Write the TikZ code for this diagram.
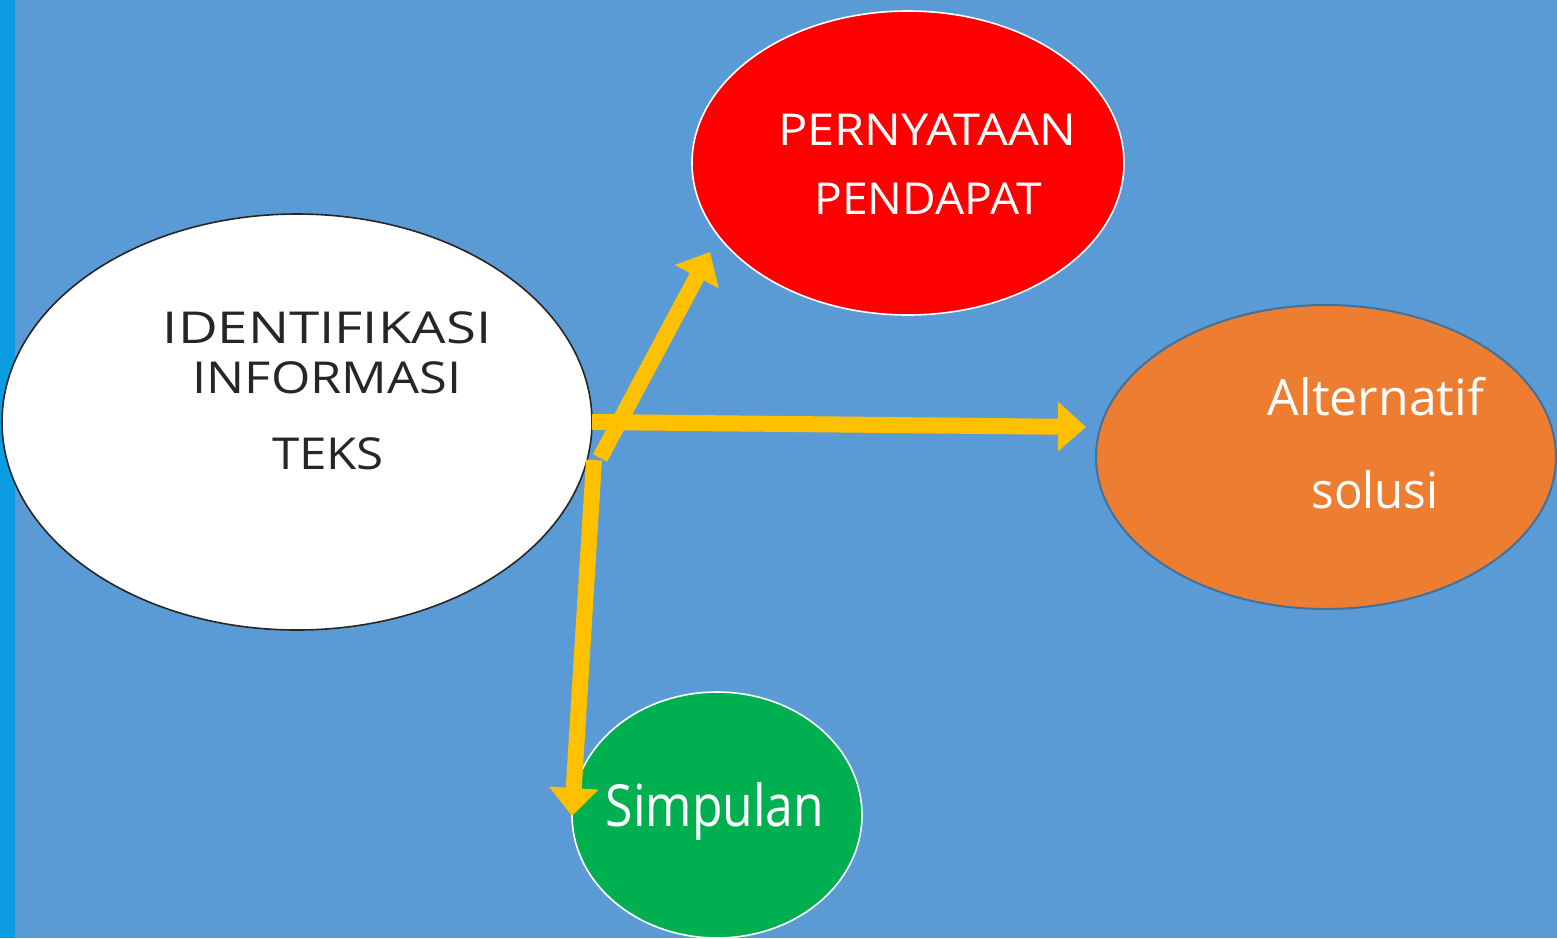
\documentclass[tikz,border=0pt]{standalone}
\usepackage{fontspec}
\setmainfont{Open Sans}
\usetikzlibrary{shapes.geometric,arrows.meta}
\definecolor{bg}{HTML}{5B9BD5}
\definecolor{strip}{HTML}{0A9BE0}
\definecolor{arr}{HTML}{FFC000}
\definecolor{redf}{HTML}{FF0000}
\definecolor{orf}{HTML}{ED7D31}
\definecolor{orl}{HTML}{41719C}
\definecolor{grf}{HTML}{00B050}
\definecolor{txtd}{HTML}{262626}
\tikzset{
  bubble/.style={ellipse, inner sep=0pt},
  conn/.style={draw=arr, line width=8pt, -{Triangle[length=14pt,width=24pt]}},
  lbl/.style={inner sep=0pt, anchor=center},
}
\begin{document}
\begin{tikzpicture}[x=0.5pt,y=-0.5pt]
\useasboundingbox (0,0) rectangle (1557,938);
\fill[bg] (0,0) rectangle (1557,938);
\fill[strip] (0,0) rectangle (15,938);
\node[bubble, fill=white, draw=txtd, line width=0.8pt, minimum width=295pt, minimum height=208pt] (idn) at (297,422) {};
\node[bubble, fill=redf, draw=white, line width=0.8pt, minimum width=216pt, minimum height=152pt] (pen) at (908,163) {};
\node[bubble, fill=orf, draw=orl, line width=1pt, minimum width=230pt, minimum height=152pt] (alt) at (1326,457) {};
\node[bubble, fill=grf, draw=white, line width=0.8pt, minimum width=145pt, minimum height=123pt] (sim) at (717,815) {};
\node[lbl, text=txtd, font=\fontsize{22}{24}\selectfont] (t1) at (327,328) {\scalebox{1.24}[1]{IDENTIFIKASI}};
\node[lbl, text=txtd, font=\fontsize{22}{24}\selectfont] (t2) at (327,378) {\scalebox{1.15}[1]{INFORMASI}};
\node[lbl, text=txtd, font=\fontsize{22}{24}\selectfont] (t3) at (328,454) {\scalebox{1.12}[1]{TEKS}};
\node[lbl, text=white, font=\fontsize{22}{24}\selectfont] (t4) at (927,130) {\scalebox{1.11}[1]{PERNYATAAN}};
\node[lbl, text=white, font=\fontsize{22}{24}\selectfont] (t5) at (928,199) {\scalebox{1.05}[1]{PENDAPAT}};
\node[lbl, text=white, font=\fontsize{25}{28}\selectfont] (t6) at (1376,397) {Alternatif};
\node[lbl, text=white, font=\fontsize{25}{28}\selectfont] (t7) at (1375,490) {\scalebox{0.95}[1]{solusi}};
\node[lbl, text=white, font=\fontsize{29}{32}\selectfont] (t8) at (715,811) {\scalebox{0.86}[1]{Simpulan}};
\coordinate (s1) at (600,458);
\coordinate (e1) at (710,252);
\coordinate (s2) at (592,422);
\coordinate (e2) at (1086,427);
\coordinate (s3) at (594,460);
\coordinate (e3) at (572,816);
\draw[conn] (s1) -- (e1);
\draw[conn] (s2) -- (e2);
\draw[conn] (s3) -- (e3);
\end{tikzpicture}
\end{document}
